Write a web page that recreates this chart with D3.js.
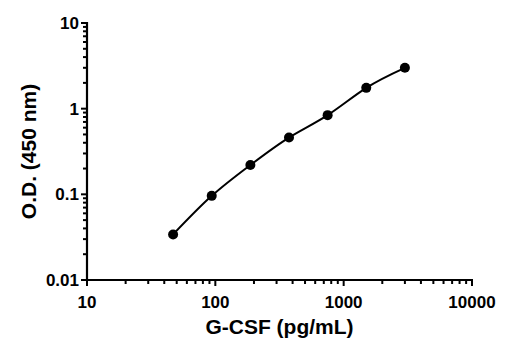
<!DOCTYPE html>
<html>
<head>
<meta charset="utf-8">
<script src="https://cdn.jsdelivr.net/npm/d3@7"></script>
<style>
  html, body { margin: 0; padding: 0; background: #fff; }
  svg { display: block; }
  text { font-family: "Liberation Sans", Arial, sans-serif; font-weight: bold; fill: #000; }
</style>
</head>
<body>
<svg id="chart" width="511" height="350"></svg>
<script>
// Data
const concentrations = [46.875, 93.75, 187.5, 375, 750, 1500, 3000];
const odValues = [0.034, 0.096, 0.22, 0.46, 0.84, 1.75, 3.0];
const xTickValues = [10, 100, 1000, 10000];
const xTickLabels = ["10", "100", "1000", "10000"];
const yTickValues = [0.01, 0.1, 1, 10];
const yTickLabels = ["0.01", "0.1", "1", "10"];
const xTitle = "G-CSF (pg/mL)";
const yTitle = "O.D. (450 nm)";

(function () {
const svg = d3.select("#chart");
const mLeft = 87, mRight = 472, mTop = 23, mBottom = 280;

const x = d3.scaleLog().domain([10, 10000]).range([mLeft, mRight]);
const y = d3.scaleLog().domain([0.01, 10]).range([mBottom, mTop]);

// minor ticks
const xMinor = [];
for (let e = 1; e < 4; e++) for (let k = 2; k <= 9; k++) xMinor.push(k * Math.pow(10, e));
const yMinor = [];
for (let e = -2; e < 1; e++) for (let k = 2; k <= 9; k++) yMinor.push(k * Math.pow(10, e));

const g = svg.append("g");

// X axis
g.selectAll(".xminor").data(xMinor).enter().append("line")
  .attr("x1", d => x(d)).attr("x2", d => x(d))
  .attr("y1", mBottom).attr("y2", mBottom + 4)
  .attr("stroke", "#000").attr("stroke-width", 2);
g.selectAll(".xmajor").data(xTickValues).enter().append("line")
  .attr("x1", d => x(d)).attr("x2", d => x(d))
  .attr("y1", mBottom).attr("y2", mBottom + 6)
  .attr("stroke", "#000").attr("stroke-width", 2);
g.append("line").attr("x1", mLeft - 1).attr("x2", mRight + 1)
  .attr("y1", mBottom).attr("y2", mBottom)
  .attr("stroke", "#000").attr("stroke-width", 2.2);
g.selectAll(".xlab").data(xTickValues).enter().append("text")
  .attr("x", d => x(d)).attr("y", mBottom + 28)
  .attr("text-anchor", "middle").attr("font-size", 17)
  .text((d, i) => xTickLabels[i]);

// Y axis
g.selectAll(".yminor").data(yMinor).enter().append("line")
  .attr("x1", mLeft - 4).attr("x2", mLeft)
  .attr("y1", d => y(d)).attr("y2", d => y(d))
  .attr("stroke", "#000").attr("stroke-width", 2);
g.selectAll(".ymajor").data(yTickValues).enter().append("line")
  .attr("x1", mLeft - 6).attr("x2", mLeft)
  .attr("y1", d => y(d)).attr("y2", d => y(d))
  .attr("stroke", "#000").attr("stroke-width", 2);
g.append("line").attr("x1", mLeft).attr("x2", mLeft)
  .attr("y1", mTop - 1).attr("y2", mBottom + 1)
  .attr("stroke", "#000").attr("stroke-width", 2.2);
g.selectAll(".ylab").data(yTickValues).enter().append("text")
  .attr("x", mLeft - 8).attr("y", d => y(d) + 6)
  .attr("text-anchor", "end").attr("font-size", 17)
  .text((d, i) => yTickLabels[i]);

// Titles
g.append("text").attr("x", (mLeft + mRight) / 2).attr("y", 334)
  .attr("text-anchor", "middle").attr("font-size", 21).text(xTitle);
g.append("text").attr("transform", `translate(36,${(mTop + mBottom) / 2}) rotate(-90)`)
  .attr("text-anchor", "middle").attr("font-size", 21).text(yTitle);

// Curve
const pts = concentrations.map((c, i) => [c, odValues[i]]);
const line = d3.line().x(d => x(d[0])).y(d => y(d[1])).curve(d3.curveNatural);
g.append("path").datum(pts).attr("d", line)
  .attr("fill", "none").attr("stroke", "#000").attr("stroke-width", 2);

g.selectAll(".pt").data(pts).enter().append("circle")
  .attr("cx", d => x(d[0])).attr("cy", d => y(d[1])).attr("r", 5)
  .attr("fill", "#000");
})();
</script>
</body>
</html>
